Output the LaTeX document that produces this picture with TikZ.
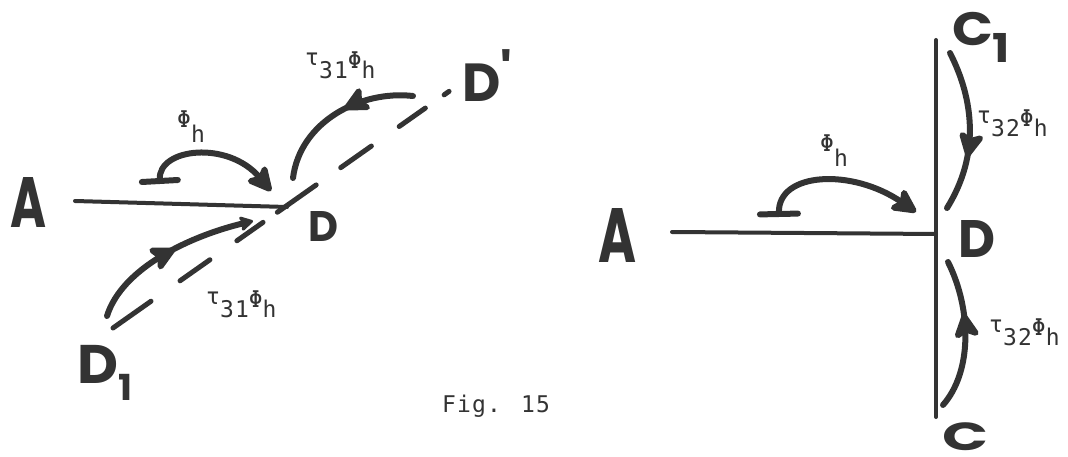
\documentclass[tikz,border=0pt]{standalone}
\usepackage{fontspec}
\usepackage{graphicx}
\usetikzlibrary{arrows.meta,decorations.markings}
\newfontfamily\hfont{Poppins}
\newfontfamily\lfont{DejaVu Sans Mono}[LetterSpace=5]
\definecolor{inkc}{HTML}{333333}
\newcommand\hl[3]{\resizebox*{#1pt}{#2pt}{\fontsize{60}{60}\hfont\bfseries #3}}
\newcommand\tauphi[1]{\raisebox{13pt}{τ}#1\raisebox{10pt}{Φ}h}
\newcommand\phih{\raisebox{15pt}{Φ}h}
\begin{document}
\begin{tikzpicture}[x=1pt,y=-1pt,
  ink/.style={draw=inkc, line cap=round, line join=round},
  rod/.style={ink, line width=4pt},
  dashline/.style={ink, line width=5pt, dash pattern=on 46.5pt off 35.5pt on 36.5pt off 33pt on 32pt off 17.5pt on 47.5pt off 30pt on 37.5pt off 34pt on 32pt off 23pt on 6pt off 50pt},
  hook/.style={ink, line width=6pt},
  bigtip/.tip={Stealth[length=30pt,width=30pt,inset=7pt,round]},
  midarrow/.style={postaction={decorate},decoration={markings,mark=at position #1 with {\arrow[inkc]{bigtip}}}},
  hand/.style={inner sep=0pt, text=inkc},
  lab/.style={inner sep=0pt, anchor=base west, text=inkc, font=\lfont\fontsize{23}{23}\selectfont}
]
\useasboundingbox (0,0) rectangle (1068,457);

% ---------------- left figure ----------------
\node[hand] (lA) at (28.5,202) {\hl{36}{50}{A}};
\node[hand] (lDlab) at (323,227) {\hl{30}{30}{D}};
\node[hand] (lDplab) at (487,76) {\hl{50}{52}{D\raisebox{0.17em}{'}}};
\node[hand] (lD1lab) at (104.5,372.5) {\hl{55}{55}{D\raisebox{-0.31em}{\scalebox{0.66}{1}}}};

\coordinate (lA0) at (75,201);
\coordinate (lD) at (287,207);
\coordinate (lD1) at (113,328);
\coordinate (lDp) at (451,90);
\draw[rod] (lA0) -- (lD);
\draw[dashline] (lD1) -- (lDp);

\coordinate (lPs) at (160,184);
\coordinate (lPe) at (271,191);
\draw[hook, {Bar[width=36pt,round]}-bigtip] (lPs) .. controls (158,148) and (228,140) .. (lPe);
\node[lab] (lPhi) at (177,143) {\phih};

\coordinate (lTs) at (413,96);
\coordinate (lTe) at (293,178);
\draw[hook, midarrow=0.44] (lTs) .. controls (360,90) and (300,122) .. (lTe);
\node[lab] (lTau1) at (305,79) {\tauphi{31}};

\coordinate (lBs) at (107,316);
\coordinate (lBe) at (253,221);
\draw[hook, midarrow=0.54, -{Stealth[length=16pt,width=18pt,inset=4pt,round]}] (lBs) .. controls (122,268) and (190,236) .. (lBe);
\node[lab] (lTau2) at (206,317) {\tauphi{31}};

\node[lab] (fig) at (442,412) {Fig. 15};

% ---------------- right figure ----------------
\node[hand] (rA) at (617.5,235) {\hl{38}{54}{A}};
\node[hand] (rDlab) at (976.5,238.5) {\hl{37}{37}{D}};
\node[hand] (rC1) at (981,37.5) {\hl{58}{51}{C\raisebox{-0.38em}{\scalebox{0.85}{1}}}};
\node[hand] (rC) at (965,437) {\hl{46}{28}{C}};

\coordinate (rTop) at (936,40);
\coordinate (rBot) at (936,417);
\coordinate (rA0) at (672,232);
\coordinate (rD) at (936,234);
\draw[rod] (rTop) -- (rBot);
\draw[rod] (rA0) -- (rD);

\coordinate (rPs) at (779,217);
\coordinate (rPe) at (916,212);
\draw[hook, {Bar[width=38pt,round]}-bigtip] (rPs) .. controls (778,172) and (852,168) .. (rPe);
\node[lab] (rPhi) at (820,167) {\phih};

\coordinate (rUs) at (950,53);
\coordinate (rUe) at (947,208);
\draw[hook, midarrow=0.66] (rUs) .. controls (974,100) and (980,155) .. (rUe);
\node[lab] (rTau1) at (977,137) {\tauphi{32}};

\coordinate (rLs) at (943,405);
\coordinate (rLe) at (948,262);
\draw[hook, midarrow=0.64] (rLs) .. controls (972,372) and (972,310) .. (rLe);
\node[lab] (rTau2) at (989,345) {\tauphi{32}};
\end{tikzpicture}
\end{document}
